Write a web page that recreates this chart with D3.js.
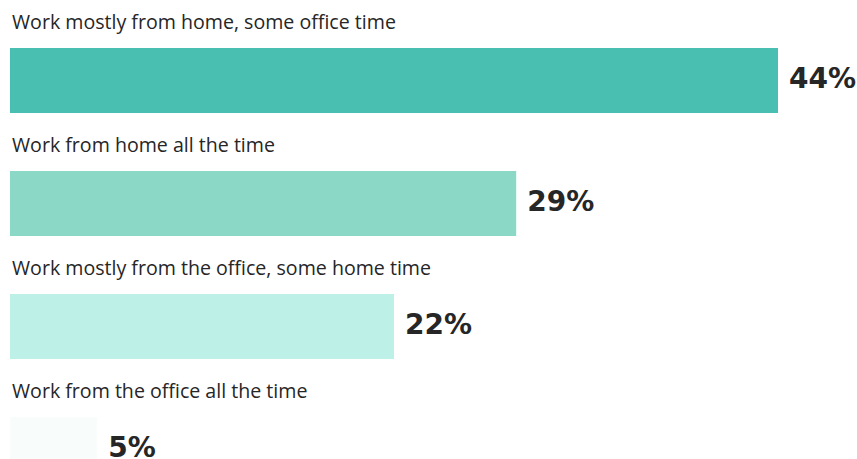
<!DOCTYPE html>
<html>
<head>
<meta charset="utf-8">
<script src="https://cdn.jsdelivr.net/npm/d3@7"></script>
<style>
  html, body { margin: 0; padding: 0; background: #ffffff; }
  svg { display: block; }
</style>
</head>
<body>
<svg id="chart" width="857" height="459"></svg>
<script>
const categories = [
  "Work mostly from home, some office time",
  "Work from home all the time",
  "Work mostly from the office, some home time",
  "Work from the office all the time"
];
const values = [44, 29, 22, 5];
const valueLabels = ["44%", "29%", "22%", "5%"];
const colors = ["#48bfb0", "#8cd8c7", "#bdf0e7", "#f8fcfb"];

const svg = d3.select("#chart");

const x = d3.scaleLinear().domain([0, 44]).range([10, 778]);
const pInner = 58 / 123;
const y = d3.scaleBand()
  .domain(categories)
  .range([48, 48 + 123 * (categories.length - pInner)])
  .paddingInner(pInner)
  .paddingOuter(0);

const data = categories.map((c, i) => ({ c, v: values[i], label: valueLabels[i], color: colors[i] }));

const g = svg.append("g");

g.selectAll("rect.bar")
  .data(data)
  .join("rect")
  .attr("class", "bar")
  .attr("x", x(0))
  .attr("y", d => y(d.c))
  .attr("width", d => x(d.v) - x(0))
  .attr("height", y.bandwidth())
  .attr("fill", d => d.color);

g.selectAll("text.cat")
  .data(data)
  .join("text")
  .attr("class", "cat")
  .attr("x", 12)
  .attr("y", d => y(d.c) - 19.5)
  .attr("font-family", "'Open Sans', 'Liberation Sans', sans-serif")
  .attr("font-size", 19.6)
  .attr("fill", "#262626")
  .text(d => d.c);

g.selectAll("text.val")
  .data(data)
  .join("text")
  .attr("class", "val")
  .attr("x", d => x(d.v) + 11)
  .attr("y", d => y(d.c) + y.bandwidth() / 2)
  .attr("dy", "0.28em")
  .attr("font-family", "'DejaVu Sans', sans-serif")
  .attr("font-weight", 700)
  .attr("font-size", 28)
  .attr("fill", "#262626")
  .text(d => d.label);
</script>
</body>
</html>
